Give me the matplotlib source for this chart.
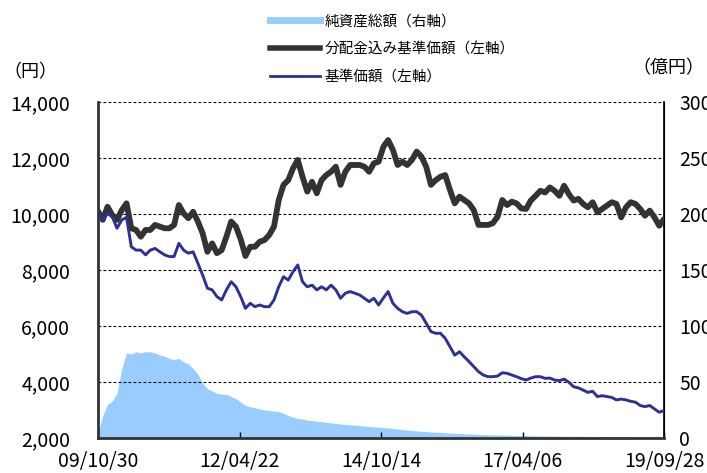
import matplotlib
matplotlib.use("Agg")
import matplotlib.pyplot as plt
from matplotlib.lines import Line2D
from matplotlib.ticker import FuncFormatter
import pandas as pd

plt.rcParams['font.family'] = ['Noto Sans CJK JP', 'DejaVu Sans']

start_date = "2009-10-30"
end_date = "2019-09-28"
n_points = 120

# 分配金込み基準価額（左軸）
adj_nav = [
    10100, 9790, 10260, 9960, 9790, 10140, 10380, 9490, 9430, 9190,
    9430, 9430, 9610, 9550, 9490, 9490, 9610, 10320, 10020, 9850,
    10080, 9730, 9310, 8650, 8950, 8600, 8710, 9190, 9730, 9550,
    9100, 8500, 8830, 8830, 9010, 9070, 9250, 9550, 10500, 11040,
    11210, 11630, 11930, 11330, 10800, 11150, 10740, 11210, 11390, 11510,
    11690, 11040, 11510, 11750, 11750, 11750, 11690, 11510, 11810, 11870,
    12400, 12640, 12290, 11750, 11870, 11750, 11930, 12230, 12050, 11690,
    11040, 11210, 11330, 11390, 10860, 10380, 10620, 10500, 10380, 10140,
    9610, 9610, 9610, 9670, 9900, 10500, 10320, 10440, 10380, 10200,
    10180, 10480, 10650, 10830, 10770, 10950, 10830, 10650, 11010, 10710,
    10480, 10540, 10360, 10240, 10420, 10060, 10180, 10300, 10420, 10360,
    9880, 10240, 10420, 10360, 10180, 9940, 10120, 9880, 9580, 9820,
]

# 基準価額（左軸）
nav = [
    10100, 9790, 10020, 9900, 9490, 9790, 9880, 8830, 8710, 8710,
    8540, 8710, 8770, 8650, 8540, 8480, 8480, 8950, 8710, 8600,
    8650, 8240, 7820, 7350, 7290, 7050, 6930, 7290, 7580, 7400,
    7050, 6630, 6810, 6690, 6750, 6690, 6690, 6930, 7400, 7760,
    7640, 7940, 8180, 7580, 7400, 7460, 7290, 7400, 7290, 7460,
    7290, 6990, 7170, 7230, 7170, 7110, 6990, 6870, 6990, 6750,
    7000, 7230, 6810, 6630, 6510, 6450, 6510, 6510, 6390, 6100,
    5800, 5740, 5740, 5560, 5260, 4960, 5080, 4900, 4730, 4550,
    4370, 4250, 4190, 4190, 4210, 4330, 4310, 4250, 4190, 4120,
    4070, 4140, 4190, 4190, 4130, 4140, 4070, 4050, 4100, 3990,
    3830, 3790, 3710, 3630, 3670, 3480, 3510, 3480, 3450, 3360,
    3390, 3360, 3310, 3280, 3160, 3120, 3160, 3040, 2920, 2980,
]

# 純資産総額（右軸, 億円）
aum = [
    5, 20, 30, 33, 40, 62, 76, 75, 77, 76,
    77, 77, 76, 74, 73, 71, 70, 71, 68, 66,
    62, 57, 49, 44, 42, 40, 39, 39, 37, 35,
    32, 29, 28, 27, 26, 25, 24.5, 24, 23.5, 22,
    20, 18.5, 17.5, 17, 16, 15.5, 15, 14.5, 14, 13.5,
    13, 12.5, 12, 11.8, 11.5, 11, 10.7, 10.3, 10, 9.6,
    9.3, 9, 8.5, 8, 7.5, 7, 6.7, 6.3, 6, 5.7,
    5.4, 5.2, 5, 4.7, 4.4, 4.2, 4, 3.8, 3.6, 3.4,
    3.2, 3.0, 2.9, 2.8, 2.7, 2.6, 2.5, 2.4, 2.3, 2.2,
    2.1, 2.0, 1.9, 1.9, 1.8, 1.8, 1.7, 1.7, 1.6, 1.6,
    1.5, 1.5, 1.5, 1.4, 1.4, 1.4, 1.3, 1.3, 1.3, 1.2,
    1.2, 1.2, 1.1, 1.1, 1.1, 1.0, 1.0, 1.0, 1.0, 1.0,
]

x_tick_dates = ["2009-10-30", "2012-04-22", "2014-10-14", "2017-04-06", "2019-09-28"]
x_tick_labels = ["09/10/30", "12/04/22", "14/10/14", "17/04/06", "19/09/28"]
left_ticks = [2000, 4000, 6000, 8000, 10000, 12000, 14000]
right_ticks = [0, 50, 100, 150, 200, 250, 300]

labels = ["純資産総額（右軸）", "分配金込み基準価額（左軸）", "基準価額（左軸）"]
c_aum = "#99ccff"
c_adj = "#333333"
c_nav = "#2e3192"

dates = pd.date_range(start=start_date, end=end_date, periods=n_points)

fig = plt.figure(figsize=(7.07, 4.73), dpi=100)
ax = fig.add_axes([98 / 707, 1 - 438 / 473, (664 - 98) / 707, (438 - 102) / 473])
ax2 = ax.twinx()

ax2.fill_between(dates, aum, 0, color=c_aum, linewidth=0)
ax.plot(dates, adj_nav, color=c_adj, linewidth=4.2, solid_capstyle='round')
ax.plot(dates, nav, color=c_nav, linewidth=2.1)

ax.set_zorder(ax2.get_zorder() + 1)
ax.patch.set_visible(False)

ax.set_xlim(pd.Timestamp(start_date), pd.Timestamp(end_date))
ax.set_ylim(2000, 14000)
ax2.set_ylim(0, 300)

ax.set_yticks(left_ticks)
ax.yaxis.set_major_formatter(FuncFormatter(lambda v, p: f"{int(v):,}"))
ax2.set_yticks(right_ticks)

ax.set_xticks([pd.Timestamp(d) for d in x_tick_dates])
ax.set_xticklabels(x_tick_labels)

ax.tick_params(axis='y', length=0, pad=20, labelsize=14)
ax2.tick_params(axis='y', length=0, pad=11, labelsize=14)
ax.tick_params(axis='x', direction='in', length=4, width=1, pad=9, labelsize=14, color='black')

for g in left_ticks[1:]:
    ax.axhline(g, color='black', linestyle=(0, (2.5, 2)), linewidth=0.8, zorder=0)

for a in (ax, ax2):
    a.spines['top'].set_visible(False)
ax.spines['left'].set_color('#333333')
ax.spines['left'].set_linewidth(2)
ax.spines['bottom'].set_color('#333333')
ax.spines['bottom'].set_linewidth(2)
ax2.spines['right'].set_color('black')
ax2.spines['right'].set_linewidth(1.2)
ax2.spines['left'].set_visible(False)
ax2.spines['bottom'].set_visible(False)

fig.text(30 / 707, 1 - 72 / 473, "（円）", ha='center', va='center', fontsize=13)
fig.text(668 / 707, 1 - 68 / 473, "（億円）", ha='center', va='center', fontsize=13)

handles = [
    Line2D([], [], color=c_aum, linewidth=5),
    Line2D([], [], color=c_adj, linewidth=4),
    Line2D([], [], color=c_nav, linewidth=2),
]
fig.legend(handles, labels, loc='upper left', bbox_to_anchor=(266 / 707, 1 - 10 / 473),
           frameon=False, fontsize=10.5, handlelength=3.4, handletextpad=0.3,
           labelspacing=0.95, borderaxespad=0, borderpad=0.3)

fig.savefig("out.png", dpi=100)
